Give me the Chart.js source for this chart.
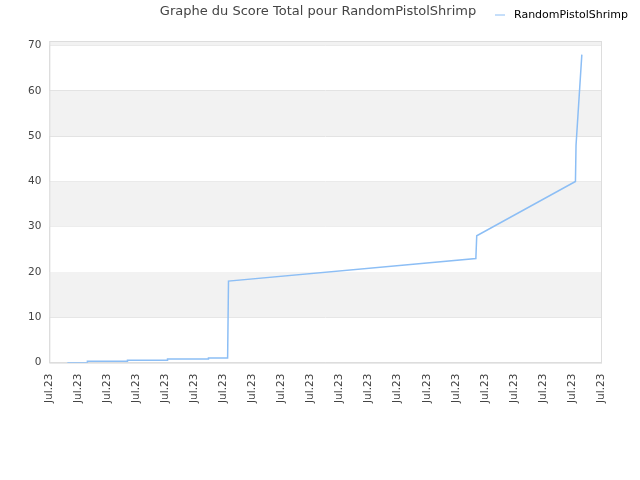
<!DOCTYPE html>
<html>
<head>
<meta charset="utf-8">
<script src="https://cdn.jsdelivr.net/npm/chart.js@4"></script>
<style>
  body { margin: 0; background: #fff; }
  #wrap { width: 640px; height: 480px; }
</style>
</head>
<body>
<div id="wrap"><canvas id="c"></canvas></div>
<script>
const chartTitle = 'Graphe du Score Total pour RandomPistolShrimp';
const seriesName = 'RandomPistolShrimp';
const tickLabels = Array(20).fill('Jul.23');
// x position in tick units, score
const xValues = [0.62, 1.31, 1.31, 2.69, 2.69, 4.07, 4.07, 5.48, 5.48, 6.14, 6.17, 14.69, 14.72, 18.12, 18.14, 18.34];
const yValues = [0, 0, 0.3, 0.3, 0.5, 0.5, 0.8, 0.8, 1, 1, 18, 23, 28, 40, 48, 68];

const lineColor = 'rgba(140,190,245,1)';

// alternating grey bands, frame, title and legend
const decor = {
  id: 'decor',
  beforeDatasetsDraw(chart) {
    const { ctx, chartArea: a, scales: { y } } = chart;
    ctx.save();
    ctx.fillStyle = '#f2f2f2';
    for (let v = 10; v < y.max; v += 20) {
      const top = y.getPixelForValue(Math.min(v + 10, y.max));
      const bot = y.getPixelForValue(v);
      ctx.fillRect(a.left, top, a.right - a.left, bot - top);
    }
    ctx.strokeStyle = '#ddd';
    ctx.strokeRect(a.left + 0.5, a.top + 0.5, a.right - a.left, a.bottom - a.top);
    ctx.restore();
  },
  afterDraw(chart) {
    const ctx = chart.ctx;
    ctx.save();
    ctx.font = '13px "DejaVu Sans"';
    ctx.fillStyle = '#444';
    ctx.textAlign = 'center';
    ctx.textBaseline = 'middle';
    ctx.fillText(chartTitle, 318, 12);
    ctx.strokeStyle = lineColor;
    ctx.beginPath(); ctx.moveTo(495, 15); ctx.lineTo(505, 15); ctx.stroke();
    ctx.font = '11px "DejaVu Sans"';
    ctx.fillStyle = '#000';
    ctx.textAlign = 'left';
    ctx.fillText(seriesName, 514, 15);
    ctx.restore();
  }
};

new Chart(document.getElementById('c'), {
  type: 'line',
  data: {
    datasets: [{
      label: seriesName,
      data: xValues.map((x, i) => ({ x: x, y: yValues[i] })),
      borderColor: lineColor,
      borderWidth: 1.5,
      pointRadius: 0,
      tension: 0,
      fill: false
    }]
  },
  options: {
    responsive: true,
    maintainAspectRatio: false,
    animation: false,
    layout: { padding: { top: 41, right: 39, left: 20, bottom: 74 } },
    plugins: { legend: { display: false }, title: { display: false }, tooltip: { enabled: false } },
    scales: {
      x: {
        type: 'linear',
        min: 0, max: 19,
        grid: { display: false },
        border: { color: '#ddd' },
        ticks: {
          stepSize: 1,
          autoSkip: false,
          maxRotation: 90, minRotation: 90,
          color: '#444',
          font: { size: 10.5, family: 'DejaVu Sans' },
          callback: (v) => tickLabels[v]
        }
      },
      y: {
        min: 0, max: 71,
        afterBuildTicks(axis) {
          axis.ticks = [0, 10, 20, 30, 40, 50, 60, 70].map(v => ({ value: v }));
        },
        grid: { color: '#e0e0e0', drawTicks: false },
        border: { color: '#ddd' },
        ticks: { color: '#444', padding: 8, font: { size: 10.5, family: 'DejaVu Sans' } }
      }
    }
  },
  plugins: [decor]
});
</script>
</body>
</html>
